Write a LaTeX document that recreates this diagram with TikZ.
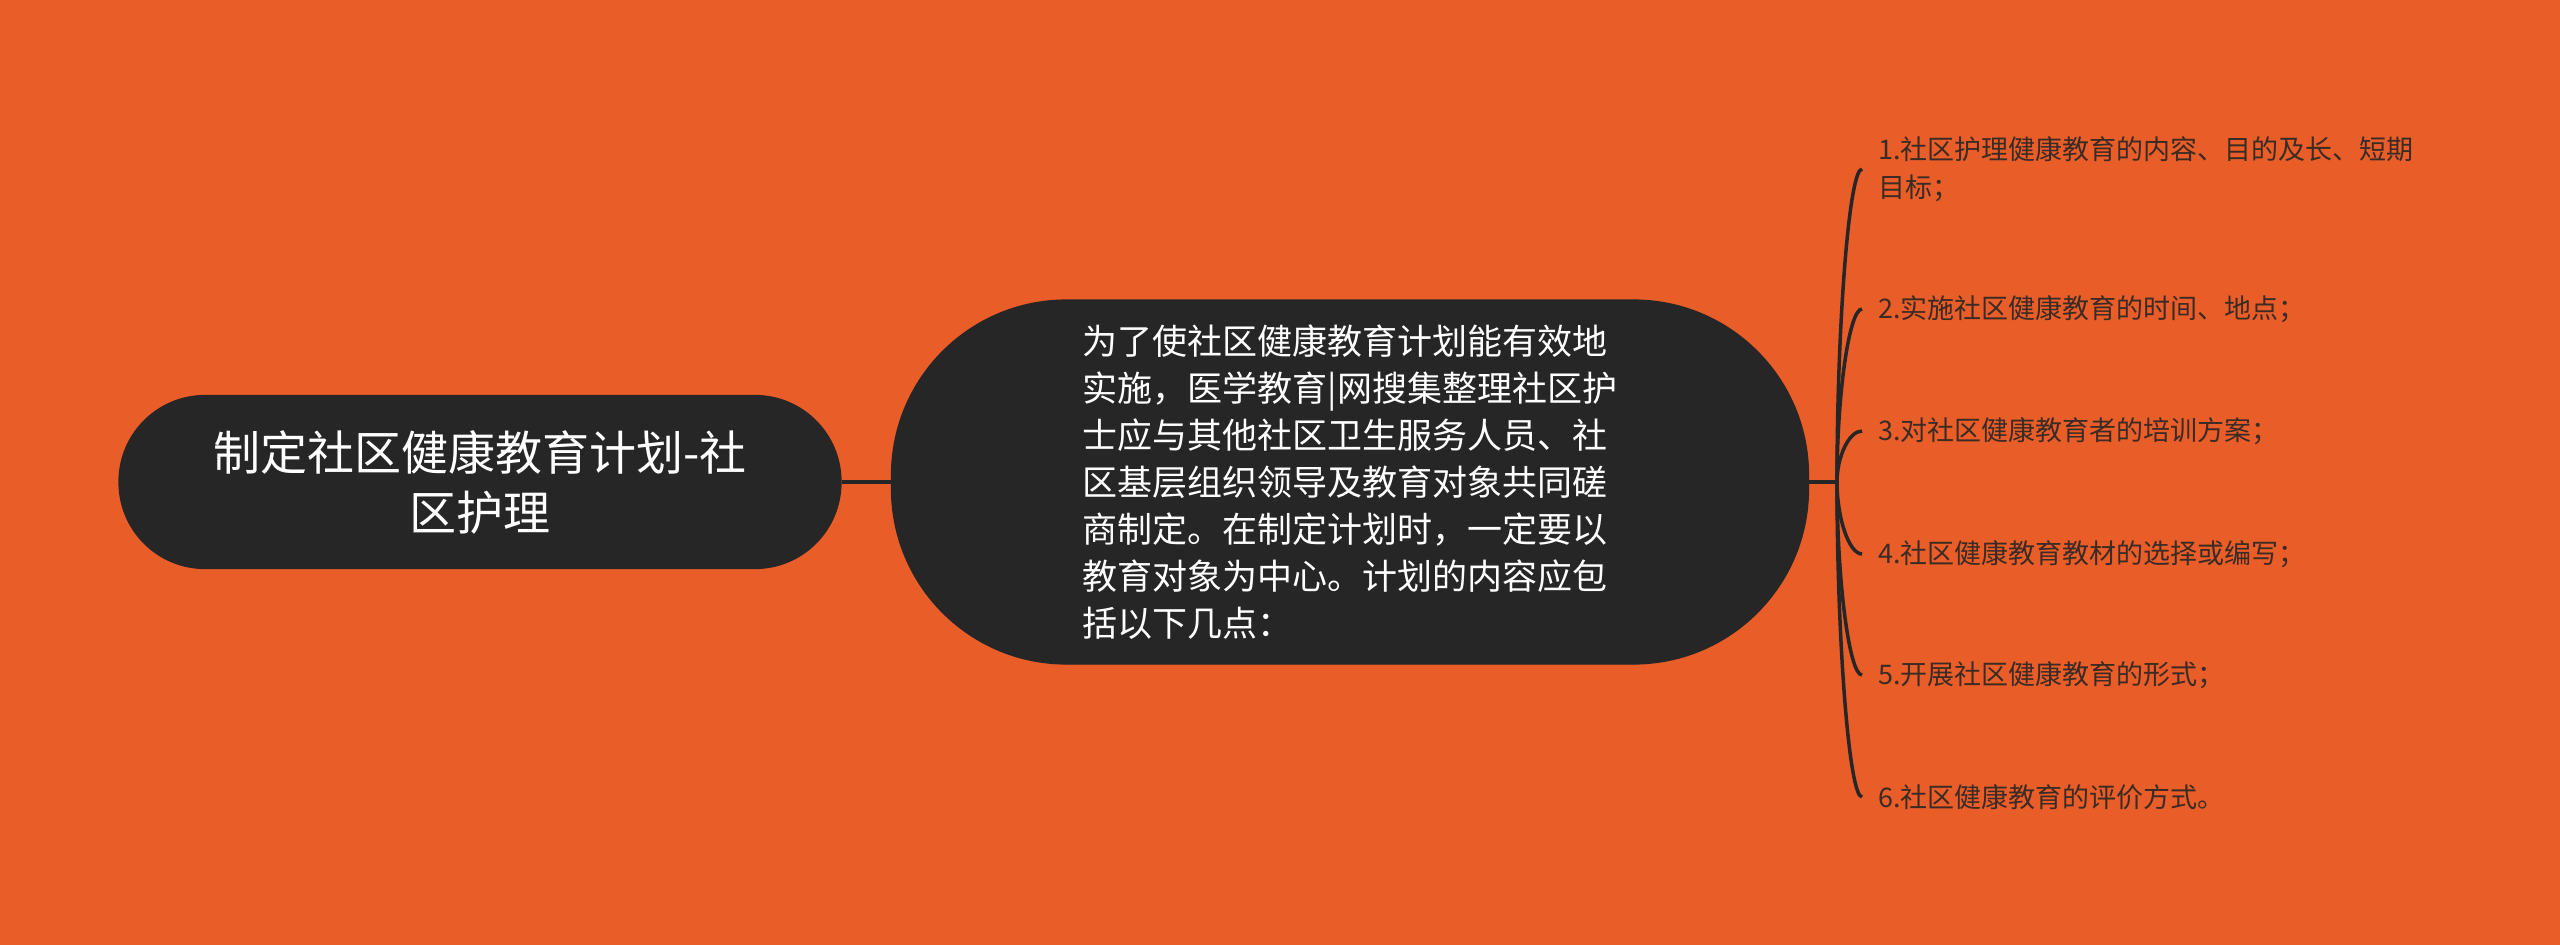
\documentclass[tikz,border=0pt]{standalone}
\usepackage{fontspec}
\usetikzlibrary{calc}
\newfontfamily\cjk{Noto Sans CJK SC}
\definecolor{bgorange}{HTML}{E95D29}
\definecolor{nodedark}{HTML}{262626}
\definecolor{leaftext}{HTML}{3A2B24}

\begin{document}
\begin{tikzpicture}[x=1pt,y=-1pt,
    topic/.style={fill=nodedark,draw=black!85,line width=1.2pt,text=white,align=center,
      font=\cjk\fontsize{47}{60}\selectfont,minimum width=722pt,minimum height=173pt,rounded corners=86pt},
    subtopic/.style={fill=nodedark,draw=black!85,line width=1.2pt,text=white,align=left,
      font=\cjk\fontsize{35}{47}\selectfont,minimum width=917pt,minimum height=364pt,rounded corners=175pt},
    leaf/.style={anchor=west,inner xsep=16pt,inner ysep=0pt,text=leaftext,align=left,
      font=\cjk\fontsize{27}{38}\selectfont},
    link/.style={draw=nodedark,line width=3.5pt}]
      \fill[bgorange] (0,0) rectangle (2560,945);
      \useasboundingbox (0,0) rectangle (2560,945);
      \node[topic] (root) at (480,482) {制定社区健康教育计划-社\\区护理};
      \node[subtopic] (plan) at (1350,482) {为了使社区健康教育计划能有效地\\实施，医学教育|网搜集整理社区护\\士应与其他社区卫生服务人员、社\\区基层组织领导及教育对象共同磋\\商制定。在制定计划时，一定要以\\教育对象为中心。计划的内容应包\\括以下几点：};
      \coordinate (hub) at (1837,482);
      \node[leaf] (c1) at (1862,169) {1.社区护理健康教育的内容、目的及长、短期\\目标；};
      \node[leaf] (c2) at (1862,309) {2.实施社区健康教育的时间、地点；};
      \node[leaf] (c3) at (1862,431) {3.对社区健康教育者的培训方案；};
      \node[leaf] (c4) at (1862,554) {4.社区健康教育教材的选择或编写；};
      \node[leaf] (c5) at (1862,675) {5.开展社区健康教育的形式；};
      \node[leaf] (c6) at (1862,797) {6.社区健康教育的评价方式。};
      \begin{scope}[link]
        \draw (root) -- (plan);
        \draw (plan) -- (hub);
        \foreach \i in {1,...,6}
          \draw (hub) .. controls ($(hub)!0.5!(hub |- c\i.west)$) and ([xshift=-13pt]c\i.west) .. (c\i.west);
      \end{scope}
    \end{tikzpicture}
\end{document}
